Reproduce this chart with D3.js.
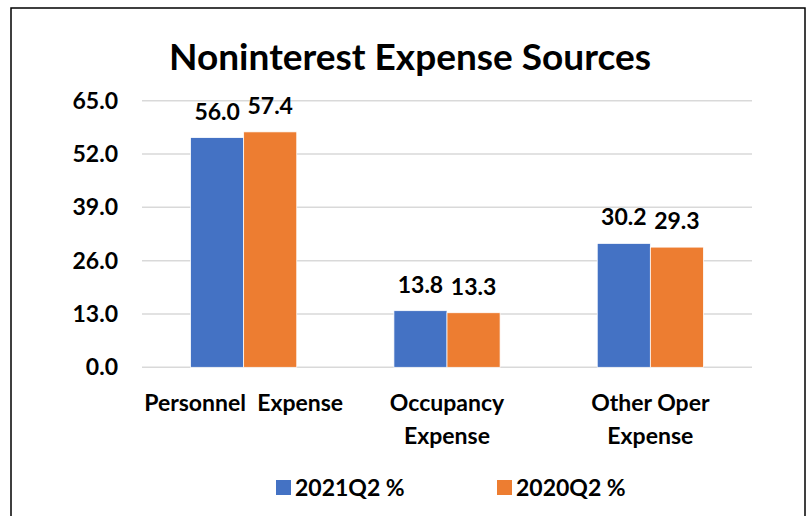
<!DOCTYPE html>
<html>
<head>
<meta charset="utf-8">
<script src="https://cdn.jsdelivr.net/npm/d3@7"></script>
<style>
  body { margin: 0; background: #fff; }
  svg { display: block; font-family: Lato, "Open Sans", sans-serif; font-weight: bold; }
</style>
</head>
<body>
<script>
// chart data
const categories = ['Personnel  Expense', 'Occupancy Expense', 'Other Oper Expense'];
const categoryLines = [['Personnel  Expense'], ['Occupancy', 'Expense'], ['Other Oper', 'Expense']];
const seriesNames = ['2021Q2 %', '2020Q2 %'];
const values2021 = [56.0, 13.8, 30.2];
const values2020 = [57.4, 13.3, 29.3];
const yTicks = [0, 13, 26, 39, 52, 65];
const colors = ['#4472C4', '#ED7D31'];

const width = 808, height = 516;
const svg = d3.select('body').append('svg')
    .attr('width', width)
    .attr('height', height);

// outer frame
svg.append('rect')
    .attr('x', 11).attr('y', 8)
    .attr('width', 794).attr('height', 530)
    .attr('fill', 'none')
    .attr('stroke', '#000')
    .attr('stroke-width', 1.5);

svg.append('text')
    .attr('x', 410).attr('y', 70)
    .attr('text-anchor', 'middle')
    .attr('font-size', 37)
    .text('Noninterest Expense Sources');

const plotLeft = 142, plotRight = 752, plotTop = 100.7, plotBottom = 367.3;

const x0 = d3.scaleBand().domain(categories).range([plotLeft, plotRight]);
const x1 = d3.scaleBand().domain(seriesNames).range([0, x0.bandwidth()]).paddingOuter(0.915);
const y = d3.scaleLinear().domain([0, 65]).range([plotBottom, plotTop]);

// gridlines
svg.append('g').selectAll('line')
    .data(yTicks)
    .join('line')
    .attr('x1', plotLeft).attr('x2', plotRight)
    .attr('y1', d => y(d)).attr('y2', d => y(d))
    .attr('stroke', '#d9d9d9')
    .attr('stroke-width', 1.5);

const yAxis = svg.append('g')
    .attr('transform', `translate(${plotLeft},0)`)
    .call(d3.axisLeft(y).tickValues(yTicks).tickFormat(d3.format('.1f')).tickSize(0).tickPadding(24));
yAxis.select('.domain').remove();
yAxis.selectAll('text')
    .attr('font-family', 'Lato, sans-serif')
    .attr('font-weight', 'bold')
    .attr('font-size', 23)
    .attr('fill', '#000');

const rows = categories.map((c, i) => ({ cat: c, vals: [values2021[i], values2020[i]] }));

const groups = svg.append('g').selectAll('g')
    .data(rows)
    .join('g')
    .attr('transform', d => `translate(${x0(d.cat)},0)`);

groups.selectAll('rect')
    .data(d => d.vals.map((v, j) => ({ name: seriesNames[j], v, j })))
    .join('rect')
    .attr('x', d => x1(d.name))
    .attr('width', x1.bandwidth())
    .attr('y', d => y(d.v))
    .attr('height', d => plotBottom - y(d.v))
    .attr('fill', d => colors[d.j])
    .attr('stroke', '#fff')
    .attr('stroke-width', 0.75);

groups.selectAll('text.val')
    .data(d => d.vals.map((v, j) => ({ name: seriesNames[j], v, j })))
    .join('text')
    .attr('class', 'val')
    .attr('x', d => x1(d.name) + x1.bandwidth() / 2)
    .attr('y', d => y(d.v) - 18)
    .attr('text-anchor', 'middle')
    .attr('font-size', 23)
    .text(d => d.v.toFixed(1));

// category labels
svg.append('g').selectAll('text')
    .data(categories)
    .join('text')
    .attr('x', d => x0(d) + x0.bandwidth() / 2)
    .attr('y', 411)
    .attr('text-anchor', 'middle')
    .attr('font-size', 23)
    .each(function (d, i) {
        d3.select(this).selectAll('tspan')
            .data(categoryLines[i])
            .join('tspan')
            .attr('x', x0(d) + x0.bandwidth() / 2)
            .attr('dy', (t, k) => k === 0 ? 0 : 33)
            .attr('xml:space', 'preserve')
            .text(t => t);
    });

// legend
const legendX = [276, 497];
const legend = svg.append('g').selectAll('g')
    .data(seriesNames)
    .join('g')
    .attr('transform', (d, i) => `translate(${legendX[i]},480)`);
legend.append('rect')
    .attr('width', 15).attr('height', 15)
    .attr('fill', (d, i) => colors[i]);
legend.append('text')
    .attr('x', 19).attr('y', 16)
    .attr('font-size', 23)
    .text(d => d);
</script>
</body>
</html>
